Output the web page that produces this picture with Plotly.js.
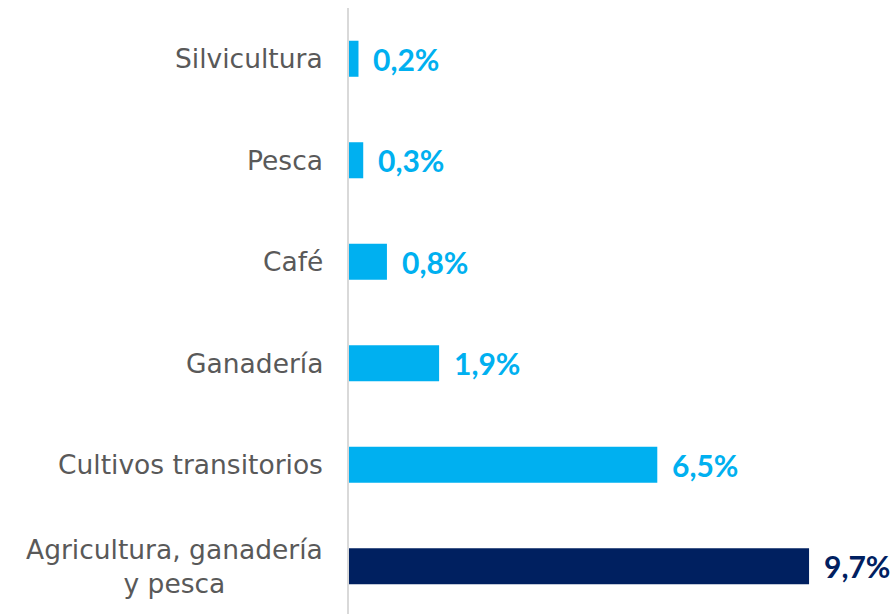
<!DOCTYPE html>
<html>
<head>
<meta charset="utf-8">
<script src="https://cdn.plot.ly/plotly-3.0.1.min.js"></script>
<style>
html,body{margin:0;padding:0;background:#fff;}
#chart{width:895px;height:614px;}
</style>
</head>
<body>
<div id="chart"></div>
<script>
const categories = ["Agricultura, ganadería<br>y pesca", "Cultivos transitorios", "Ganadería", "Café", "Pesca", "Silvicultura"];
const values = [9.7, 6.5, 1.9, 0.8, 0.3, 0.2];
const labels = ["9,7%", "6,5%", "1,9%", "0,8%", "0,3%", "0,2%"];
const barColors = ["#002060", "#00B0F0", "#00B0F0", "#00B0F0", "#00B0F0", "#00B0F0"];

const LABEL_FONT = "Lato, 'DejaVu Sans', sans-serif";
const TICK_FONT = "'DejaVu Sans', sans-serif";

const trace = {
  type: "bar",
  orientation: "h",
  x: values,
  y: categories,
  marker: {color: barColors},
  hoverinfo: "none"
};

const annotations = [];
categories.forEach((c, i) => {
  annotations.push({
    xref: "x", yref: "y", x: values[i], y: c,
    text: labels[i], showarrow: false,
    xanchor: "left", yanchor: "middle", xshift: 13,
    font: {family: LABEL_FONT, size: 30, color: barColors[i], weight: "bold"}
  });
  annotations.push({
    xref: "paper", yref: "y", x: 0, y: c,
    text: c, showarrow: false,
    xanchor: "right", yanchor: "middle", xshift: -24, align: "center",
    font: {family: TICK_FONT, size: 26.5, color: "#595959"}
  });
});

const layout = {
  width: 895, height: 614,
  margin: {l: 349, r: 48, t: 8, b: 0, pad: 0},
  paper_bgcolor: "#ffffff", plot_bgcolor: "#ffffff",
  showlegend: false,
  bargap: 0.645,
  xaxis: {range: [0, 10.5], visible: false, showgrid: false, zeroline: false, fixedrange: true},
  yaxis: {type: "category", categoryorder: "array", categoryarray: categories, range: [-0.47, 5.5],
          showticklabels: false, ticks: "", showgrid: false, zeroline: false,
          showline: true, linecolor: "#D9D9D9", linewidth: 2, fixedrange: true},
  annotations: annotations
};

Plotly.newPlot("chart", [trace], layout, {displayModeBar: false, staticPlot: true});
</script>
</body>
</html>
